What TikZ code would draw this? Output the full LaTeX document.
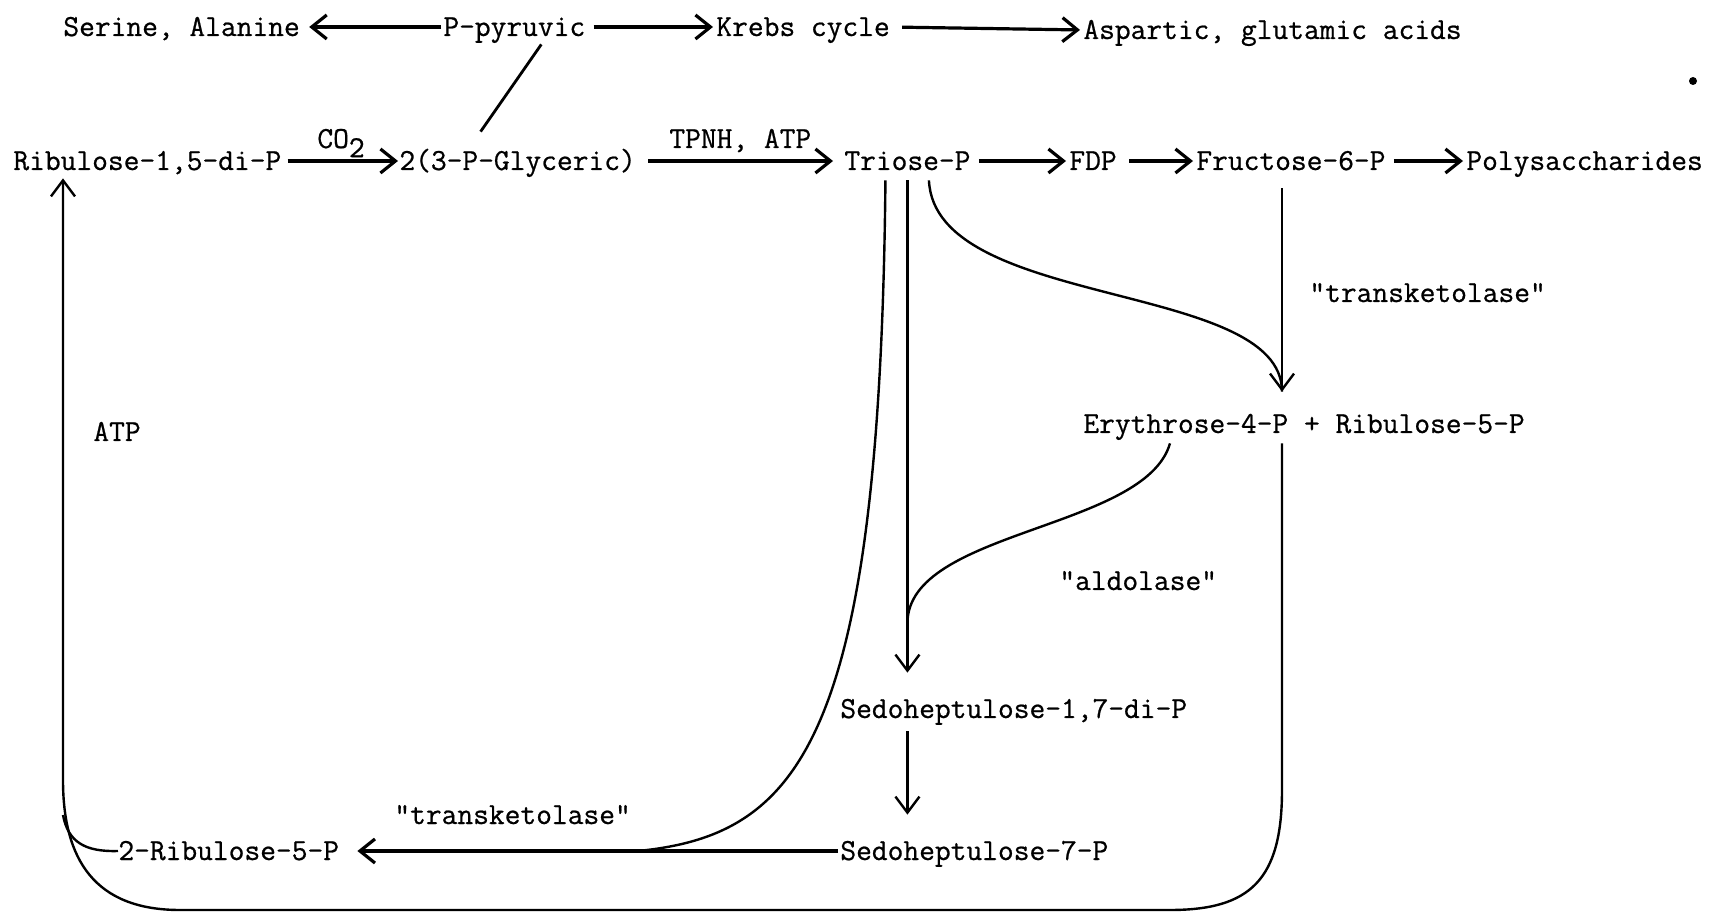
\documentclass[tikz,border=0pt]{standalone}
\usepackage{fontspec}
\newfontfamily\twfont{Latin Modern Mono}[FakeBold=0.7]
\usetikzlibrary{arrows.meta,calc}
\tikzset{
  txt/.style={font=\twfont\fontsize{15.3pt}{18pt}\selectfont, inner sep=0pt, text height=12pt, text depth=3pt, anchor=base west},
  arr/.style={line width=1.6pt, -{Straight Barb[length=7.5pt,width=12pt]}, shorten <=4pt, shorten >=1.5pt},
  varr/.style={line width=1.2pt, -{Straight Barb[length=8pt,width=12pt]}},
  curve/.style={line width=1.2pt},
}
\begin{document}
\begin{tikzpicture}[x=0.5pt,y=-0.5pt]
\useasboundingbox (0,0) rectangle (1715,914);
% texts
\node[txt] (ser) at (63,36) {Serine, Alanine};
\node[txt] (pyr) at (443,36) {P-pyruvic};
\node[txt] (kre) at (716,36) {Krebs cycle};
\node[txt] (asp) at (1083,39) {Aspartic, glutamic acids};
\node[txt] (rib) at (13,170) {Ribulose-1,5-di-P};
\node[txt] (gly) at (399,170) {2(3-P-Glyceric)};
\node[txt] (tri) at (844,170) {Triose-P};
\node[txt] (fdp) at (1069,170) {FDP};
\node[txt] (fru) at (1196,170) {Fructose-6-P};
\node[txt] (pol) at (1466,170) {Polysaccharides};
\node[txt] (ery) at (1083,433) {Erythrose-4-P + Ribulose-5-P};
\node[txt] (s17) at (840,718) {Sedoheptulose-1,7-di-P};
\node[txt] (s7) at (840,860) {Sedoheptulose-7-P};
\node[txt] (r5) at (118,860) {2-Ribulose-5-P};
\node[txt] (atp) at (93,441) {ATP};
\node[txt] (tk1) at (1309,302) {"transketolase"};
\node[txt] (ald) at (1059,590) {"aldolase"};
\node[txt] (tk2) at (394,824) {"transketolase"};
\node[txt] (co2) at (317,148) {CO\raisebox{-0.3em}{2}};
\node[txt] (tpnh) at (669,148) {TPNH, ATP};
% helper coordinates
\coordinate (xr) at (1282,0);
\coordinate (xl) at (63,0);
\coordinate (jx) at (638,0);
\coordinate (ya) at (0,623);
\coordinate (jl) at (63,815);
% top row
\draw[arr, shorten >=4.5pt, shorten <=1pt] (pyr.west) -- (ser.east);
\draw[arr] (pyr.east) -- (kre.west);
\draw[arr, shorten <=6pt] (kre.east) -- (asp.west);
\draw[curve, line width=1.4pt] ($(pyr.south)+(27,2)$) -- ($(gly.north)+(-37,-14)$);
% second row
\draw[arr, shorten <=3pt, shorten >=0.5pt] (rib.east) -- (gly.west);
\draw[arr, shorten <=6pt, shorten >=5.5pt] (gly.east) -- (tri.west);
\draw[arr] (tri.east) -- (fdp.west);
\draw[arr, shorten <=6pt] (fdp.east) -- (fru.west);
\draw[arr] (fru.east) -- (pol.west);
% verticals
\draw[varr, shorten <=6pt, shorten >=8.5pt] (fru.south -| xr) -- (ery.north -| xr);
\draw[curve] ($(tri.south)+(21.5,4)$) .. controls (935,310) and (1282,280) .. ($(ery.north -| xr)+(0,-17)$);
\draw[varr, shorten <=2pt, shorten >=10.5pt] (tri.south) -- (tri.south |- s17.north);
\draw[curve] ($(tri.south)+(-22,4)$) .. controls (880,740) and (800,835) .. (s7.west -| jx);
\draw[curve] ($(ery.south west)+(87,4)$) .. controls (1145,530) and (908,530) .. (tri.south |- ya);
\draw[varr, shorten <=3.5pt, shorten >=10.5pt] (s17.south -| tri.south) -- (s7.north -| tri.south);
% bottom
\draw[arr, shorten <=1pt, shorten >=9pt] (s7.west) -- (r5.east);
\draw[varr, shorten <=2pt, shorten >=1pt] (ery.south -| xr) -- (1282,790) .. controls (1282,880) and (1250,910) .. (1170,910) -- (180,910) .. controls (95,910) and (63,860) .. (63,780) -- (rib.south -| xl);
\draw[curve] (r5.west) .. controls (85,852) and (68,842) .. (jl);
\fill (1693,81) circle (2pt);
\end{tikzpicture}
\end{document}
